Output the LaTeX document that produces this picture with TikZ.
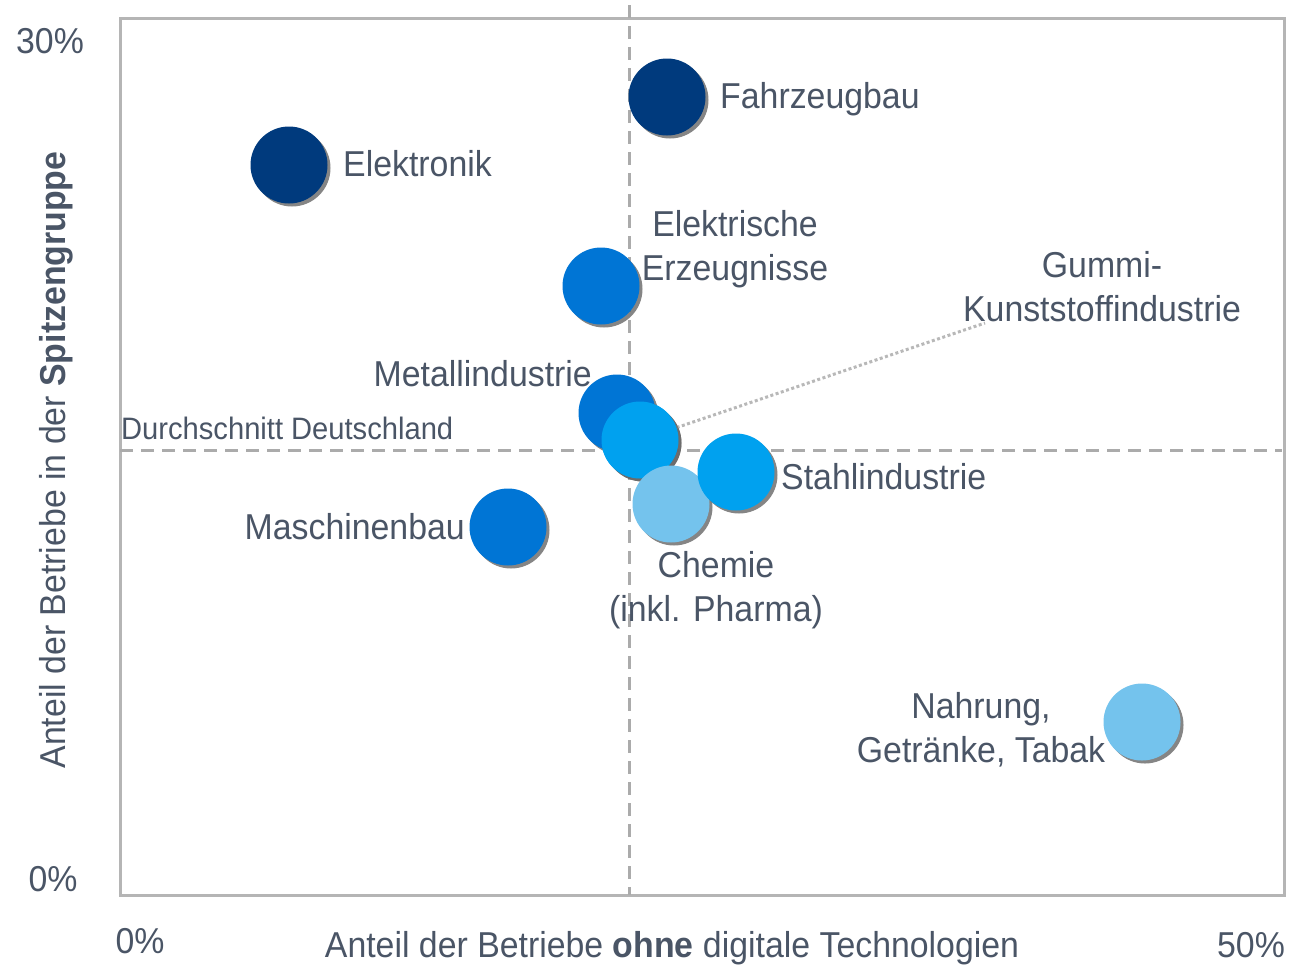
\documentclass[tikz,border=0pt]{standalone}
\usepackage{fontspec}
\setmainfont[FakeStretch=0.94]{Liberation Sans}
\usepackage{tikz}
\usetikzlibrary{shadows}
\definecolor{txtgray}{HTML}{4A5566}
\definecolor{framegray}{HTML}{B5B5B5}
\definecolor{navy}{HTML}{003A7D}
\definecolor{midblue}{HTML}{0075D5}
\definecolor{brightblue}{HTML}{00A1EF}
\definecolor{lightblue}{HTML}{74C3ED}
\tikzset{
  bubble/.style={circle,fill=#1,minimum size=77pt,inner sep=0pt,
    drop shadow={shadow xshift=3pt,shadow yshift=-3pt,fill=black!60,opacity=.8}},
  lbl/.style={text=txtgray,font=\fontsize{36}{44}\selectfont,inner sep=0pt},
  avgline/.style={black!33,line width=3pt,dash pattern=on 13pt off 8pt}
}
\newcommand\Bubble[4]{
  \node[bubble=#4] (#1) at (#2,#3) {};
}
\newcommand\Lbl[5]{
  \node[lbl,anchor=#4,align=center] (#1) at (#2,#3) {#5};
}

\begin{document}
\begin{tikzpicture}[x=1pt, y=-1pt]
\useasboundingbox (0,0) rectangle (1292,967);
\draw[framegray,line width=3pt] (120,18) rectangle (1284,895);
\draw[avgline] (629,5) -- (629,895);
\draw[avgline] (120,450) -- (1282,450);

\coordinate (gummiend) at (985,323);
\Bubble{gummi}{640}{440}{brightblue}
\draw[black!28,line width=3pt,dash pattern=on 3pt off 2.5pt] (gummi) -- (gummiend);

\Bubble{elektronik}{289}{165}{navy}
\Bubble{fahrzeug}{667}{97}{navy}
\Bubble{elektrisch}{601}{286}{midblue}
\Bubble{maschinen}{508}{527}{midblue}
\Bubble{metall}{617}{413}{midblue}
\Bubble{gummi}{640}{440}{brightblue}
\Bubble{chemie}{671}{504}{lightblue}
\Bubble{stahl}{736}{472}{brightblue}
\Bubble{nahrung}{1142}{722}{lightblue}

\Lbl{fahrzeugl}{720}{108}{base west}{Fahrzeugbau}
\Lbl{elektronikl}{343}{176}{base west}{Elektronik}
\Lbl{elektrischl}{735}{249}{center}{Elektrische\\Erzeugnisse}
\Lbl{gummil}{1102}{287}{center}{Gummi-\\Kunststoffindustrie}
\Lbl{metalll}{592}{386}{base east}{Metallindustrie}
\Lbl{stahll}{781}{489}{base west}{Stahlindustrie}
\Lbl{maschinenl}{465}{539}{base east}{Maschinenbau}
\Lbl{chemiel}{716}{590}{center}{Chemie\\(inkl. Pharma)}
\Lbl{nahrungl}{981}{730}{center}{Nahrung,\\Getränke, Tabak}
\node[lbl,anchor=base west,font=\fontsize{31}{36}\selectfont] (avgl) at (121,439) {Durchschnitt Deutschland};

\node[lbl,anchor=base] (ytop) at (50,53) {30\%};
\node[lbl,anchor=base] (ybot) at (53,891) {0\%};
\node[lbl,anchor=base] (xleft) at (140,953) {0\%};
\node[lbl,anchor=base] (xright) at (1251,957) {50\%};
\node[lbl,anchor=base] (xtitle) at (672,957) {Anteil der Betriebe \textbf{ohne} digitale Technologien};
\node[lbl,anchor=base,rotate=90] (ytitle) at (65,460) {Anteil der Betriebe in der \textbf{Spitzengruppe}};
\end{tikzpicture}
\end{document}
